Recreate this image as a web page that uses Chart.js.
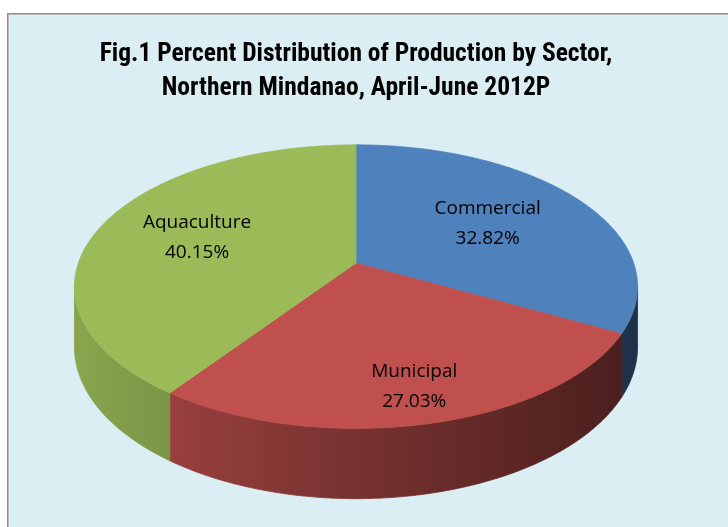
<!DOCTYPE html>
<html>
<head>
<meta charset="utf-8">
<script src="https://cdn.jsdelivr.net/npm/chart.js@4.4.1/dist/chart.umd.min.js"></script>
<style>
html,body{margin:0;padding:0;background:#ffffff;}
#c{display:block;}
</style>
</head>
<body>
<canvas id="c" width="728" height="527"></canvas>
<script>
// ---- data ----
const categories = ['Commercial', 'Municipal', 'Aquaculture'];
const shares = [32.82, 27.03, 40.15];
const sliceColors = ['#4F81BD', '#C0504D', '#9BBB59'];
const titleLines = ['Fig.1 Percent Distribution of Production by Sector,', 'Northern Mindanao, April-June 2012P'];

function shade(hex, f) {
  const n = parseInt(hex.slice(1), 16);
  const r = Math.round(((n >> 16) & 255) * f), g = Math.round(((n >> 8) & 255) * f), b = Math.round((n & 255) * f);
  return 'rgb(' + r + ',' + g + ',' + b + ')';
}

const backgroundPlugin = {
  id: 'panelBackground',
  beforeDraw(chart) {
    const ctx = chart.ctx;
    ctx.save();
    ctx.fillStyle = '#ffffff';
    ctx.fillRect(0, 0, chart.width, chart.height);
    ctx.fillStyle = '#DAEEF3';
    ctx.fillRect(8, 14, chart.width - 8, chart.height - 14);
    ctx.fillStyle = '#8C8C8C';
    ctx.fillRect(7, 13, chart.width - 7, 1);
    ctx.fillRect(7, 13, 1, chart.height - 13);
    ctx.fillStyle = '#B8B8B8';
    ctx.fillRect(8, 14, chart.width - 8, 1);
    ctx.fillRect(8, 14, 1, chart.height - 14);
    ctx.restore();
  }
};

const pie3dPlugin = {
  id: 'pie3d',
  beforeDatasetsDraw(chart, args, opts) {
    const meta = chart.getDatasetMeta(0);
    const arcs = meta.data;
    if (!arcs.length) return false;
    const ctx = chart.ctx;
    const cx = arcs[0].x, cy = arcs[0].y, R = arcs[0].outerRadius;
    const A = R * opts.rx, B = R * opts.ry, H = R * opts.depth, k = opts.persp;
    const P = (ang, f, h) => {
      const u = f * Math.cos(ang), v = f * Math.sin(ang);
      const s = 1 / (1 - k * v);
      return [cx + A * u * s, cy + B * v * s + H * s * h];
    };
    const step = Math.PI / 360;
    const vis0 = Math.asin(k), vis1 = Math.PI - Math.asin(k);
    ctx.save();
    ctx.lineJoin = 'round';
    // side walls
    arcs.forEach((arc, i) => {
      const a = Math.max(arc.startAngle, vis0), b = Math.min(arc.endAngle, vis1);
      if (b <= a) return;
      const col = sliceColors[i];
      const grad = ctx.createLinearGradient(cx - A, 0, cx + A, 0);
      grad.addColorStop(0, shade(col, 0.88));
      grad.addColorStop(0.5, shade(col, 0.62));
      grad.addColorStop(1, shade(col, 0.38));
      ctx.beginPath();
      let p = P(a, 1, 0);
      ctx.moveTo(p[0], p[1]);
      for (let t = a; t < b; t += step) { p = P(t, 1, 0); ctx.lineTo(p[0], p[1]); }
      p = P(b, 1, 0); ctx.lineTo(p[0], p[1]);
      p = P(b, 1, 1); ctx.lineTo(p[0], p[1]);
      for (let t = b; t > a; t -= step) { p = P(t, 1, 1); ctx.lineTo(p[0], p[1]); }
      p = P(a, 1, 1); ctx.lineTo(p[0], p[1]);
      ctx.closePath();
      ctx.fillStyle = grad;
      ctx.strokeStyle = grad;
      ctx.lineWidth = 0.8;
      ctx.fill();
      ctx.stroke();
    });
    // top faces
    arcs.forEach((arc, i) => {
      const col = arc.options.backgroundColor;
      ctx.beginPath();
      ctx.moveTo(cx, cy);
      let p;
      for (let t = arc.startAngle; t < arc.endAngle; t += step) { p = P(t, 1, 0); ctx.lineTo(p[0], p[1]); }
      p = P(arc.endAngle, 1, 0); ctx.lineTo(p[0], p[1]);
      ctx.closePath();
      ctx.fillStyle = col;
      ctx.strokeStyle = col;
      ctx.lineWidth = 0.8;
      ctx.fill();
      ctx.stroke();
    });
    // data labels
    ctx.fillStyle = '#000000';
    ctx.font = opts.labelFont;
    ctx.textAlign = 'center';
    ctx.textBaseline = 'middle';
    const values = chart.data.datasets[0].data;
    arcs.forEach((arc, i) => {
      const mid = (arc.startAngle + arc.endAngle) / 2;
      const p = P(mid, opts.labelRadius[i], 0);
      ctx.fillText(chart.data.labels[i], p[0], p[1] - opts.labelGap / 2);
      ctx.fillText(values[i].toFixed(2) + '%', p[0], p[1] + opts.labelGap / 2);
    });
    ctx.restore();
    return false;
  }
};

new Chart(document.getElementById('c'), {
  type: 'pie',
  data: {
    labels: categories,
    datasets: [{
      data: shares,
      backgroundColor: sliceColors,
      borderWidth: 0,
      hoverOffset: 0
    }]
  },
  options: {
    responsive: false,
    animation: false,
    events: [],
    layout: { padding: { top: 0, left: 0, right: 16, bottom: 116.3 } },
    plugins: {
      legend: { display: false },
      tooltip: { enabled: false },
      title: {
        display: true,
        text: titleLines,
        color: '#000000',
        font: { family: "'Liberation Sans Narrow', 'Arial Narrow', 'Roboto Condensed', Lato, sans-serif", size: 25.5, weight: 'bold', lineHeight: 1.333 },
        padding: { top: 37.5, bottom: 10 }
      },
      pie3d: {
        rx: 1.881, ry: 0.934, depth: 0.397, persp: 0.166,
        labelRadius: [0.58, 0.8, 0.62],
        labelGap: 30,
        labelFont: "19px 'Open Sans', sans-serif"
      }
    }
  },
  plugins: [backgroundPlugin, pie3dPlugin]
});
</script>
</body>
</html>
